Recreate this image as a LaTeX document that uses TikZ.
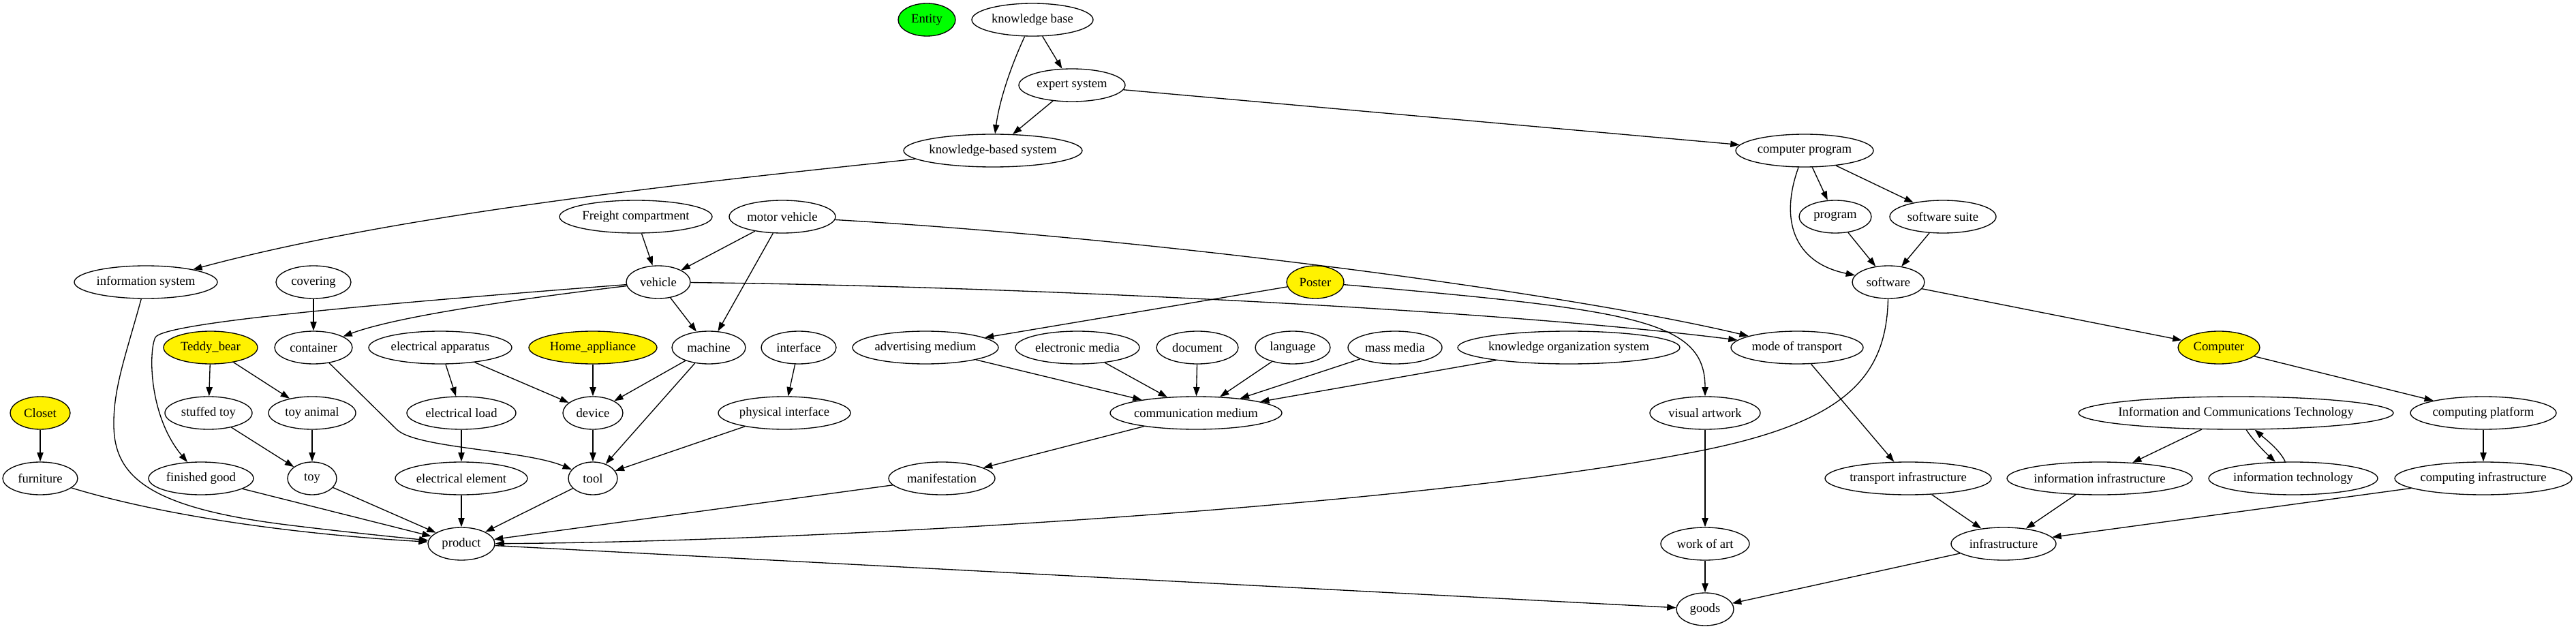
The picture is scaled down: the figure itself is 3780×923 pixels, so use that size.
\documentclass[tikz,border=0pt]{standalone}
\usepackage{fontspec}
\setmainfont{Liberation Serif}
\usetikzlibrary{shapes.geometric,arrows.meta}
\newcommand{\gvt}[1]{\makebox[0pt]{#1}}
\begin{document}
\begin{tikzpicture}[x=0.75pt,y=-0.75pt,
  gv/.style={ellipse,draw,line width=1pt,inner sep=0pt,minimum height=36pt,minimum width={1.5pt*#1},font=\fontsize{14}{16}\selectfont},
  edg/.style={line width=1pt,-{Triangle[length=10pt,width=7pt]}},
  yel/.style={fill=yellow}, grn/.style={fill=green}]
\useasboundingbox (0,0) rectangle (3780,923);
% row 0
\node[gv=42,grn] (entity) at (1360,29) {\gvt{Entity}};
\node[gv=89] (kb) at (1515,29) {\gvt{knowledge base}};
% row 1
\node[gv=78] (es) at (1573,125) {\gvt{expert system}};
% row 2
\node[gv=131] (kbs) at (1457,221) {\gvt{knowledge-based system}};
\node[gv=101] (cp) at (2648,221) {\gvt{computer program}};
% row 3
\node[gv=112] (fc) at (933,318) {\gvt{Freight compartment}};
\node[gv=78] (mv) at (1148,318) {\gvt{motor vehicle}};
\node[gv=53] (prog) at (2693,318) {\gvt{program}};
\node[gv=78] (ss) at (2851,318) {\gvt{software suite}};
% row 4
\node[gv=105] (is) at (214,414) {\gvt{information system}};
\node[gv=55] (cov) at (460,414) {\gvt{covering}};
\node[gv=47] (veh) at (966,414) {\gvt{vehicle}};
\node[gv=42,yel] (poster) at (1930,414) {\gvt{Poster}};
\node[gv=53] (sw) at (2771,414) {\gvt{software}};
% row 5
\node[gv=69,yel] (teddy) at (309,510) {\gvt{Teddy\_bear}};
\node[gv=57] (cont) at (460,510) {\gvt{container}};
\node[gv=105] (ea) at (646,510) {\gvt{electrical apparatus}};
\node[gv=94,yel] (ha) at (870,510) {\gvt{Home\_appliance}};
\node[gv=54] (mach) at (1040,510) {\gvt{machine}};
\node[gv=55] (intf) at (1172,510) {\gvt{interface}};
\node[gv=107] (adv) at (1358,510) {\gvt{advertising medium}};
\node[gv=91] (em) at (1581,510) {\gvt{electronic media}};
\node[gv=60] (doc) at (1757,510) {\gvt{document}};
\node[gv=55] (lang) at (1897,510) {\gvt{language}};
\node[gv=69] (mm) at (2047,510) {\gvt{mass media}};
\node[gv=163] (kos) at (2302,510) {\gvt{knowledge organization system}};
\node[gv=97] (mot) at (2637,510) {\gvt{mode of transport}};
\node[gv=60,yel] (comp) at (3256,510) {\gvt{Computer}};
% row 6
\node[gv=44,yel] (closet) at (59,606) {\gvt{Closet}};
\node[gv=64] (st) at (306,606) {\gvt{stuffed toy}};
\node[gv=64] (ta) at (458,606) {\gvt{toy animal}};
\node[gv=80] (el) at (677,606) {\gvt{electrical load}};
\node[gv=44] (dev) at (870,606) {\gvt{device}};
\node[gv=97] (pi) at (1151,606) {\gvt{physical interface}};
\node[gv=126] (cm) at (1755,606) {\gvt{communication medium}};
\node[gv=81] (va) at (2502,606) {\gvt{visual artwork}};
\node[gv=231] (ict) at (3281,606) {\gvt{Information and Communications Technology}};
\node[gv=107] (cplat) at (3644,606) {\gvt{computing platform}};
% row 7
\node[gv=55] (furn) at (59,702) {\gvt{furniture}};
\node[gv=77] (fg) at (295,702) {\gvt{finished good}};
\node[gv=36] (toy) at (458,702) {\gvt{toy}};
\node[gv=97] (ee) at (677,702) {\gvt{electrical element}};
\node[gv=36] (tool) at (870,702) {\gvt{tool}};
\node[gv=78] (man) at (1382,702) {\gvt{manifestation}};
\node[gv=122] (ti) at (2800,702) {\gvt{transport infrastructure}};
\node[gv=136] (ii) at (3081,702) {\gvt{information infrastructure}};
\node[gv=124] (it) at (3365,702) {\gvt{information technology}};
\node[gv=130] (ci) at (3644,702) {\gvt{computing infrastructure}};
% row 8
\node[gv=49] (prod) at (677,798) {\gvt{product}};
\node[gv=65] (woa) at (2502,798) {\gvt{work of art}};
\node[gv=77] (infra) at (2940,798) {\gvt{infrastructure}};
% row 9
\node[gv=42] (goods) at (2502,894) {\gvt{goods}};

% edges
\draw[edg] (kb) .. controls (1482,100) and (1466,150) .. (kbs);
\draw[edg] (kb) -- (es);
\draw[edg] (es) -- (kbs);
\draw[edg] (es) -- (cp);
\draw[edg] (kbs) .. controls (1050,265) and (600,310) .. (is);
\draw[edg] (cp) -- (prog);
\draw[edg] (cp) -- (ss);
\draw[edg] (cp) .. controls (2612,320) and (2630,385) .. (sw);
\draw[edg] (prog) -- (sw);
\draw[edg] (ss) -- (sw);
\draw[edg] (sw) -- (comp);
\draw[edg] (sw) .. controls (2768,560) and (2700,625) .. (2466,667) .. controls (2066,743) and (1200,795) .. (prod);
\draw[edg] (fc) -- (veh);
\draw[edg] (mv) -- (veh);
\draw[edg] (mv) -- (mach);
\draw[edg] (mv) .. controls (1700,350) and (2300,430) .. (mot);
\draw[edg] (veh) .. controls (750,440) and (580,465) .. (cont);
\draw[edg] (veh) -- (mach);
\draw[edg] (veh) .. controls (500,450) and (240,475) .. (228,495) .. controls (218,515) and (218,610) .. (fg);
\draw[edg] (veh) .. controls (1500,420) and (2200,455) .. (mot);
\draw[edg] (cov) -- (cont);
\draw[edg] (poster) -- (adv);
\draw[edg] (poster) .. controls (2400,455) and (2502,470) .. (va);
\draw[edg] (cont) -- (582,630) .. controls (610,658) and (770,660) .. (tool);
\draw[edg] (ea) -- (el);
\draw[edg] (ea) -- (dev);
\draw[edg] (ha) -- (dev);
\draw[edg] (mach) -- (dev);
\draw[edg] (mach) -- (tool);
\draw[edg] (dev) -- (tool);
\draw[edg] (pi) -- (tool);
\draw[edg] (intf) -- (pi);
\draw[edg] (teddy) -- (st);
\draw[edg] (teddy) -- (ta);
\draw[edg] (st) -- (toy);
\draw[edg] (ta) -- (toy);
\draw[edg] (closet) -- (furn);
\draw[edg] (el) -- (ee);
\draw[edg] (furn) .. controls (250,760) and (450,785) .. (prod);
\draw[edg] (is) .. controls (185,520) and (166,570) .. (167,625) .. controls (168,700) and (220,745) .. (420,770) .. controls (500,780) and (580,788) .. (prod);
\draw[edg] (fg) -- (prod);
\draw[edg] (toy) -- (prod);
\draw[edg] (ee) -- (prod);
\draw[edg] (tool) -- (prod);
\draw[edg] (man) -- (prod);
\draw[edg] (prod) -- (goods);
\draw[edg] (adv) -- (cm);
\draw[edg] (em) -- (cm);
\draw[edg] (doc) -- (cm);
\draw[edg] (lang) -- (cm);
\draw[edg] (mm) -- (cm);
\draw[edg] (kos) -- (cm);
\draw[edg] (cm) -- (man);
\draw[edg] (va) -- (woa);
\draw[edg] (woa) -- (goods);
\draw[edg] (mot) -- (ti);
\draw[edg] (ti) -- (infra);
\draw[edg] (ii) -- (infra);
\draw[edg] (ci) -- (infra);
\draw[edg] (infra) -- (goods);
\draw[edg] (comp) -- (cplat);
\draw[edg] (cplat) -- (ci);
\draw[edg] (ict) -- (ii);
\draw[edg] (ict) .. controls (3305,645) and (3325,665) .. (it);
\draw[edg] (it) .. controls (3345,660) and (3325,645) .. (ict);
\end{tikzpicture}
\end{document}
